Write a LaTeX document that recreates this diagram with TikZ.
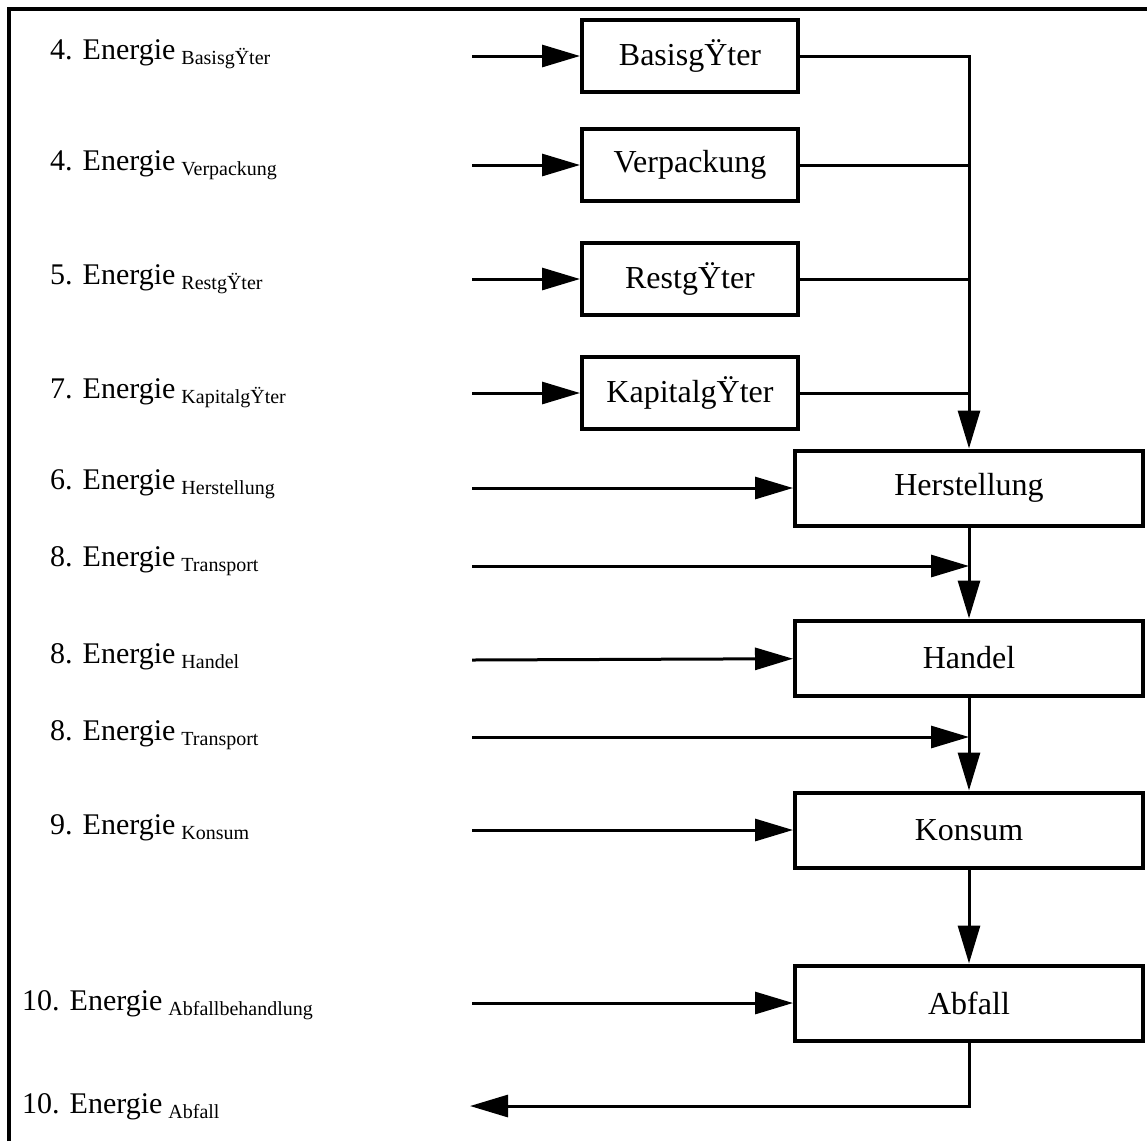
\documentclass[tikz,border=0pt]{standalone}
\usepackage{fontspec}
\setmainfont{Liberation Serif}
\usetikzlibrary{arrows.meta,positioning}
\tikzset{
  flowarrow/.style={-{Triangle[length=38pt,width=22pt]}, line width=3pt},
  flowline/.style={line width=3pt},
  stagebox/.style={draw, line width=4pt, minimum width=216pt, minimum height=72pt,
    inner sep=0pt, font=\fontsize{32}{34}\selectfont},
  bigbox/.style={stagebox, minimum width=348pt, minimum height=75pt},
  energylabel/.style={anchor=base west, inner sep=0pt, font=\fontsize{30}{32}\selectfont}
}
\newcommand{\energie}[2]{#1 Energie\hspace{6pt}{\fontsize{20}{20}\selectfont\raisebox{-5pt}{#2}}}

\begin{document}
\begin{tikzpicture}[x=1pt, y=-1pt]
    \useasboundingbox (0,0) rectangle (1147,1141);
    \draw[line width=3.5pt] (9,1141) -- (9,9) -- (1147,9);

    % upstream goods
    \node[stagebox] (basis) at (690,56) {BasisgŸter};
    \node[stagebox] (verp) at (690,165) {Verpackung};
    \node[stagebox] (rest) at (690,279) {RestgŸter};
    \node[stagebox] (kapital) at (690,393) {KapitalgŸter};

    % main chain
    \node[bigbox] (herst) at (969,488) {Herstellung};
    \node[bigbox] (handel) at (969,658) {Handel};
    \node[bigbox] (konsum) at (969,830) {Konsum};
    \node[bigbox] (abfall) at (969,1003) {Abfall};

    % energy labels
    \node[energylabel] (lbasis) at (50,59) {\energie{4.}{BasisgŸter}};
    \node[energylabel] (lverp) at (50,170) {\energie{4.}{Verpackung}};
    \node[energylabel] (lrest) at (50,284) {\energie{5.}{RestgŸter}};
    \node[energylabel] (lkapital) at (50,398) {\energie{7.}{KapitalgŸter}};
    \node[energylabel] (lherst) at (50,489) {\energie{6.}{Herstellung}};
    \node[energylabel] (ltrans) at (50,566) {\energie{8.}{Transport}};
    \node[energylabel] (lhandel) at (50,663) {\energie{8.}{Handel}};
    \node[energylabel] (ltransb) at (50,740) {\energie{8.}{Transport}};
    \node[energylabel] (lkonsum) at (50,834) {\energie{9.}{Konsum}};
    \node[energylabel] (labfb) at (22,1010) {\energie{10.}{Abfallbehandlung}};
    \node[energylabel] (labf) at (22,1113) {\energie{10.}{Abfall}};

    % arrow starts
    \coordinate (sbasis) at (472,56);
    \coordinate (sverp) at (472,165);
    \coordinate (srest) at (472,279);
    \coordinate (skapital) at (472,393);
    \coordinate (sherst) at (472,488);
    \coordinate (strans) at (472,566);
    \coordinate (shandel) at (472,660);
    \coordinate (stransb) at (472,737);
    \coordinate (skonsum) at (472,830);
    \coordinate (sabfall) at (472,1003);
    \coordinate (eabfall) at (470,1106);
    \coordinate (ttrans) at (969,566);
    \coordinate (ttransb) at (969,737);

    \draw[flowarrow] (sbasis) -- (basis);
    \draw[flowarrow] (sverp) -- (verp);
    \draw[flowarrow] (srest) -- (rest);
    \draw[flowarrow] (skapital) -- (kapital);
    \draw[flowarrow] (sherst) -- (herst);
    \draw[flowarrow] (strans) -- (ttrans);
    \draw[flowarrow] (shandel) -- (handel);
    \draw[flowarrow] (stransb) -- (ttransb);
    \draw[flowarrow] (skonsum) -- (konsum);
    \draw[flowarrow] (sabfall) -- (abfall);

    \draw[flowarrow] (basis.east) -| (herst.north);
    \draw[flowline] (verp.east) -- (verp.east -| herst.north);
    \draw[flowline] (rest.east) -- (rest.east -| herst.north);
    \draw[flowline] (kapital.east) -- (kapital.east -| herst.north);
    \draw[flowarrow] (herst) -- (handel);
    \draw[flowarrow] (handel) -- (konsum);
    \draw[flowarrow] (konsum) -- (abfall);
    \draw[flowarrow] (abfall.south) |- (eabfall);
\end{tikzpicture}
\end{document}
